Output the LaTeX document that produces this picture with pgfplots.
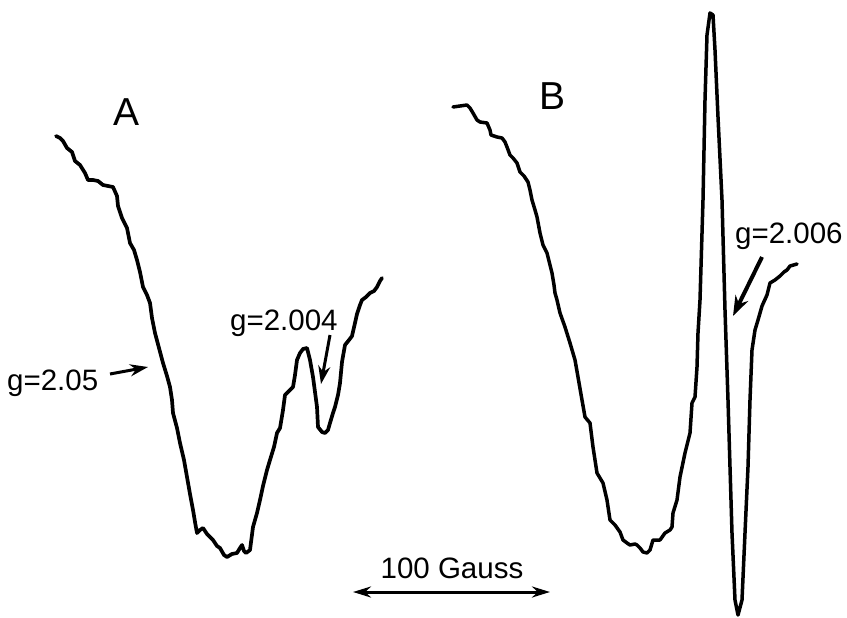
\documentclass[border=0pt]{standalone}
\usepackage{fontspec}
\setmainfont{Liberation Sans}
\usepackage{pgfplots}
\pgfplotsset{compat=1.18}
\usetikzlibrary{arrows.meta}

% traces digitised in pixel units of the reference (y grows downwards)
\pgfplotstableread{
x y
56 136
60 138
63 141
67 148
72 152
75 161
80 165
85 173
88 180
93 180
98 181
103 185
108 186
113 187
117 196
118 206
122 218
125 224
127 228
130 243
134 250
137 260
140 272
143 287
147 295
150 303
152 318
155 333
159 348
163 363
167 376
170 387
172 400
173 413
177 428
180 443
184 460
187 477
190 494
193 510
195 522
197 533
200 530
203 528
207 534
213 540
217 546
220 548
224 555
227 557
232 554
237 553
240 548
242 545
244 551
246 553
250 550
253 527
257 513
260 500
263 486
267 470
270 460
274 447
277 433
280 428
283 410
285 395
290 390
293 387
295 375
297 360
300 353
303 349
307 348
310 360
313 377
315 392
317 407
318 427
322 432
325 433
328 430
330 423
333 413
335 407
338 395
340 383
342 362
345 345
349 340
352 336
355 323
357 314
360 305
362 300
366 297
370 293
374 291
377 287
380 281
382 278
}\traceA

\pgfplotstableread{
x y
453 107
460 106
467 105
470 108
473 113
477 120
480 122
487 123
490 130
491 135
497 137
502 138
505 142
507 147
510 155
513 158
517 163
520 172
524 176
528 182
530 190
532 200
535 210
537 217
540 233
543 245
547 253
550 265
552 273
554 285
555 293
557 300
560 313
565 327
570 343
575 360
578 377
582 400
585 417
590 423
593 447
597 473
603 483
607 500
610 520
615 525
620 532
623 540
627 543
630 545
635 544
637 545
640 548
643 552
647 553
650 550
653 540
658 540
660 540
665 533
670 530
672 527
673 513
677 500
680 477
685 453
690 433
692 403
695 397
697 367
698 333
700 300
703 200
705 100
707 35
710 13
713 15
715 50
718 117
722 200
725 310
728 400
730 467
732 533
735 600
738 615
742 600
745 533
748 467
750 400
752 350
755 330
758 320
762 306
767 295
770 283
775 280
780 276
784 272
787 270
790 266
797 264
}\traceB

\begin{document}
\begin{tikzpicture}
\begin{axis}[
    width=847pt, height=618pt,
    scale only axis,
    xmin=0, xmax=847, ymin=0, ymax=618,
    y dir=reverse,
    hide axis,
    clip=false,
]
\path (axis cs:0,0) rectangle (axis cs:847,618);

\addplot[black, line width=3.7pt, line join=round, line cap=round] table {\traceA};
\addplot[black, line width=3.5pt, line join=round, line cap=round] table {\traceB};

% panel letters
\node[anchor=base, font=\fontsize{39}{42}\selectfont] at (axis cs:127,125) {A};
\node[anchor=base, font=\fontsize{39}{42}\selectfont] at (axis cs:553,110) {B};

% g-value labels and arrows
\node[anchor=base west, inner sep=0pt, font=\fontsize{29.5}{32}\selectfont] at (axis cs:7,390) {g=2.05};
\draw[line width=3pt, -{Stealth[length=18pt,width=12pt]}] (axis cs:110,374) -- (axis cs:148,367);

\node[anchor=base west, inner sep=0pt, font=\fontsize{29.5}{32}\selectfont] at (axis cs:230,330) {g=2.004};
\draw[line width=3pt, -{Stealth[length=18pt,width=12pt]}] (axis cs:330,335) -- (axis cs:321,384);

\node[anchor=base west, inner sep=0pt, font=\fontsize{29.5}{32}\selectfont] at (axis cs:735,243) {g=2.006};
\draw[line width=4pt, -{Stealth[length=20pt,width=14pt]}] (axis cs:762,257) -- (axis cs:733,316);

% scale bar
\node[anchor=base, inner sep=0pt, font=\fontsize{29.5}{32}\selectfont] at (axis cs:452,578) {100 Gauss};
\draw[line width=3pt, {Stealth[length=18pt,width=11pt]}-{Stealth[length=18pt,width=11pt]}] (axis cs:353,592) -- (axis cs:550,592);
\end{axis}
\end{tikzpicture}
\end{document}
